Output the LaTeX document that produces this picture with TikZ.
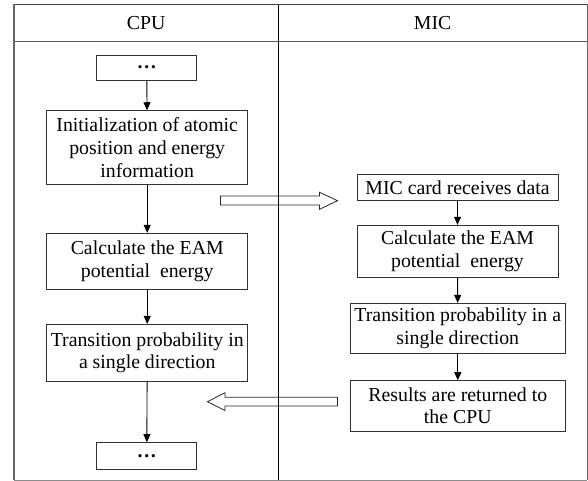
\documentclass[tikz,border=0pt]{standalone}
\usepackage{fontspec}
\setmainfont{Liberation Serif}
\usetikzlibrary{arrows.meta}
\begin{document}
\begin{tikzpicture}[x=1pt,y=-1pt,
  box/.style={draw=black!80, line width=0.9pt, fill=white, inner sep=0pt, align=center, font=\fontsize{19.8}{22.8}\selectfont},
  flow/.style={draw=black, line width=0.9pt, -{Triangle[length=8pt,width=7pt]}},
  blockarrow/.style={draw=black!85, line width=0.8pt, fill=white},
  lbl/.style={inner sep=0pt, font=\fontsize{19.8}{22.8}\selectfont}]
\useasboundingbox (0,0) rectangle (588,481);
% frame
\draw[black!45, line width=0.8pt] (14.3,480) -- (587.3,480);
\draw[black!75, line width=1pt] (14.3,5) -- (587.3,5);
\draw[black!60, line width=2pt] (14.3,4.5) -- (14.3,480);
\draw[black!60, line width=1.5pt] (587.3,4.5) -- (587.3,480);
\draw[black!65, line width=1.5pt] (14.3,41.7) -- (587.3,41.7);
% block arrows (drawn before the divider)
\draw[blockarrow] (220.5,196) -- (319.5,196) -- (319.5,192.3) -- (337.5,200.7) -- (319.5,209.3) -- (319.5,205) -- (220.5,205) -- cycle;
\draw[blockarrow] (337.5,397.3) -- (225,397.3) -- (225,392.7) -- (207.4,401.7) -- (225,410.5) -- (225,406) -- (337.5,406) -- cycle;
\draw[black, line width=0.8pt] (278,5) -- (278,480);
% headers
\node[lbl] (hcpu) at (146.2,23.4) {CPU};
\node[lbl] (hmic) at (432.6,23.4) {MIC};
% CPU column
\node[box, minimum width=100pt, minimum height=25pt] (d1) at (146.8,67.5) {\textbf{…}};
\node[box, minimum width=200.6pt, minimum height=73.6pt] (init) at (147.2,147.5) {Initialization of atomic\\position and energy\\information};
\node[box, minimum width=200.6pt, minimum height=56pt] (calc1) at (147.2,261.3) {Calculate the EAM\\potential\ \ energy};
\node[box, minimum width=200.6pt, minimum height=56.7pt] (tr1) at (147.2,352.7) {Transition probability in\\a single direction};
\node[box, minimum width=100pt, minimum height=26.3pt] (d2) at (146.8,455.8) {\textbf{…}};
% MIC column
\node[box, minimum width=201pt, minimum height=26.7pt] (mic) at (457.5,187.3) {MIC card receives data};
\node[box, minimum width=201pt, minimum height=52pt] (calc2) at (457.5,251.3) {Calculate the EAM\\potential\ \ energy};
\node[box, minimum width=214.4pt, minimum height=50pt] (tr2) at (457.8,328.3) {Transition probability in a\\single direction};
\node[box, minimum width=214.4pt, minimum height=50.3pt] (res) at (457.8,405.8) {Results are returned to\\the CPU};
% connectors
\draw[flow] (d1) -- (init);
\draw[flow] (init) -- (calc1);
\draw[flow] (calc1) -- (tr1);
\draw[flow] (tr1) -- (d2);
\draw[flow] (mic) -- (calc2);
\draw[flow] (calc2) -- (tr2);
\draw[flow] (tr2) -- (res);
\end{tikzpicture}
\end{document}
